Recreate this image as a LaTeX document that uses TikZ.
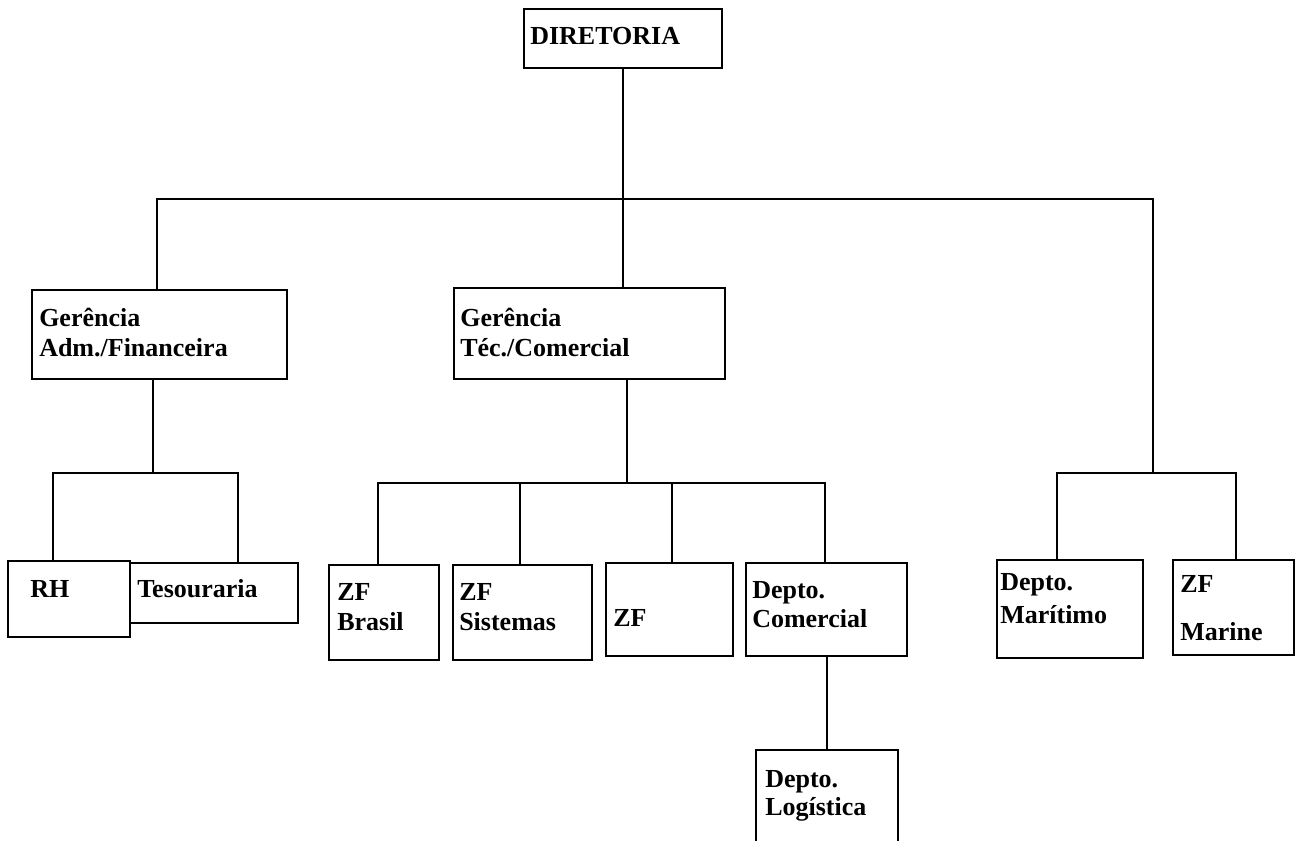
\documentclass[tikz,border=0pt]{standalone}
\usepackage{fontspec}
\setmainfont{Liberation Serif}
\usetikzlibrary{fit}
\begin{document}
\begin{tikzpicture}[x=0.75pt,y=-0.75pt,
  box/.style={draw, line width=0.8pt, inner sep=0pt},
  thickbox/.style={draw, line width=1.6pt, inner sep=0pt},
  lbl/.style={anchor=base west, inner sep=0pt, font=\fontsize{19.5}{22}\selectfont\bfseries},
  conn/.style={line width=1.6pt}]
\useasboundingbox (0,0) rectangle (1296,841);

% boxes
\node[box, fit={(524,9) (722,68)}] (dir) {};
\node[box, fit={(32,290) (287,379)}] (adm) {};
\node[box, fit={(454,288) (725,379)}] (tec) {};
\node[thickbox, fit={(8,561) (130,637)}] (rh) {};
\node[box, fit={(130,563) (298,623)}] (tes) {};
\node[box, fit={(329,565) (439,660)}] (zfb) {};
\node[box, fit={(453,565) (592,660)}] (zfs) {};
\node[box, fit={(606,563) (733,656)}] (zf) {};
\node[box, fit={(746,563) (907,656)}] (com) {};
\node[box, fit={(756,750) (898,850)}] (log) {};
\node[box, fit={(997,560) (1143,658)}] (mar) {};
\node[box, fit={(1173,560) (1294,655)}] (zfm) {};

% labels
\node[lbl] (tdir) at (530,45) {DIRETORIA};
\node[lbl] (tadm1) at (39,327) {Gerência};
\node[lbl] (tadm2) at (39,357) {Adm./Financeira};
\node[lbl] (ttec1) at (460,327) {Gerência};
\node[lbl] (ttec2) at (460,357) {Téc./Comercial};
\node[lbl] (trh) at (30,597) {RH};
\node[lbl] (ttes) at (137,597) {Tesouraria};
\node[lbl] (tzfb1) at (337,600) {ZF};
\node[lbl] (tzfb2) at (337,630) {Brasil};
\node[lbl] (tzfs1) at (459,600) {ZF};
\node[lbl] (tzfs2) at (459,630) {Sistemas};
\node[lbl] (tzf) at (613,626) {ZF};
\node[lbl] (tcom1) at (752,598) {Depto.};
\node[lbl] (tcom2) at (752,627) {Comercial};
\node[lbl] (tlog1) at (765,787) {Depto.};
\node[lbl] (tlog2) at (765,815) {Logística};
\node[lbl] (tmar1) at (1000,590) {Depto.};
\node[lbl] (tmar2) at (1000,623) {Marítimo};
\node[lbl] (tzfm1) at (1180,592) {ZF};
\node[lbl] (tzfm2) at (1180,640) {Marine};

% junctions
\coordinate (j0) at (623,199);
\coordinate (jr) at (1153,473);
\coordinate (ja) at (153,473);
\coordinate (jt) at (627,483);

% connectors
\draw[conn] (623,0 |- dir.south) -- (623,0 |- tec.north);
\draw[conn] (157,0 |- adm.north) |- (j0) -| (jr);
\draw[conn] (1057,0 |- mar.north) |- (jr) -| (1236,0 |- zfm.north);

\draw[conn] (153,0 |- adm.south) -- (ja);
\draw[conn] (53,0 |- rh.north) |- (ja) -| (238,0 |- tes.north);

\draw[conn] (627,0 |- tec.south) -- (jt);
\draw[conn] (378,0 |- zfb.north) |- (jt) -| (825,0 |- com.north);
\draw[conn] (520,0 |- zfs.north) -- (520,0 |- jt);
\draw[conn] (672,0 |- zf.north) -- (672,0 |- jt);
\draw[conn] (827,0 |- com.south) -- (827,0 |- log.north);
\end{tikzpicture}
\end{document}
